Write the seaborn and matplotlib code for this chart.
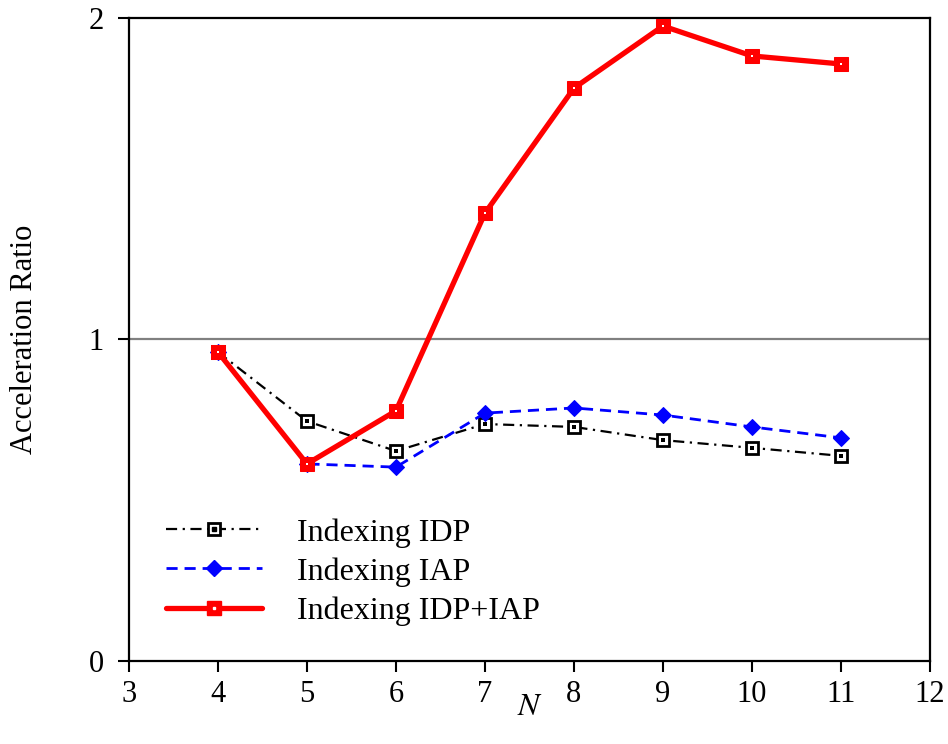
import matplotlib
matplotlib.use("Agg")
import matplotlib.pyplot as plt
import seaborn as sns
import pandas as pd
from matplotlib.lines import Line2D

N = [4, 5, 6, 7, 8, 9, 10, 11]
idp = [0.961, 0.746, 0.653, 0.737, 0.728, 0.687, 0.663, 0.638]
iap = [0.961, 0.613, 0.603, 0.771, 0.787, 0.765, 0.728, 0.694]
both = [0.961, 0.613, 0.778, 1.393, 1.782, 1.975, 1.882, 1.857]
labels = ["Indexing IDP", "Indexing IAP", "Indexing IDP+IAP"]
xticks = [3, 4, 5, 6, 7, 8, 9, 10, 11, 12]
yticks = [0, 1, 2]

sns.set_theme(style="white")
plt.rcParams['font.family'] = ['Liberation Serif', 'DejaVu Serif']
plt.rcParams['mathtext.fontset'] = 'stix'
plt.rcParams['text.color'] = 'black'
plt.rcParams['axes.labelcolor'] = 'black'

fig = plt.figure(figsize=(9.48, 7.44), dpi=100)
ax = fig.add_axes([0.136, 0.1116, 0.845, 0.8642])

df = pd.DataFrame({"N": N, "idp": idp, "iap": iap, "both": both})

ax.axhline(1, color="#808080", lw=1.6, zorder=1)

DASHDOT = (0, (5, 2.5, 1, 2.5))
DASH = (0, (4, 2.5))

sns.lineplot(data=df, x="N", y="idp", ax=ax, color="black", lw=1.6,
             linestyle=DASHDOT, marker="s", markersize=9,
             markerfacecolor="white", markeredgecolor="black", markeredgewidth=2, zorder=3)
sns.scatterplot(data=df, x="N", y="idp", ax=ax, color="black", s=5, marker="s", linewidth=0, zorder=4)
sns.lineplot(data=df, x="N", y="iap", ax=ax, color="blue", lw=2,
             linestyle=DASH, marker="D", markersize=8,
             markerfacecolor="blue", markeredgecolor="blue", zorder=3)
sns.lineplot(data=df, x="N", y="both", ax=ax, color="red", lw=3.8,
             marker="s", markersize=10, markerfacecolor="red",
             markeredgecolor="red", zorder=5)
sns.scatterplot(data=df, x="N", y="both", ax=ax, color="white", s=3, marker="s", linewidth=0, zorder=6)

ax.set_xlim(3, 12)
ax.set_ylim(0, 2)
ax.set_xticks(xticks)
ax.set_yticks(yticks)
ax.tick_params(axis="both", direction="out", length=8, width=1.5, labelsize=22,
               colors="black", bottom=True, left=True)
ax.tick_params(axis="y", pad=10)
ax.tick_params(axis="x", pad=6)
for s in ax.spines.values():
    s.set_color("black")
    s.set_linewidth(1.6)
ax.set_xlabel("$N$", fontsize=23, labelpad=-12)
ax.set_ylabel("Acceleration Ratio", fontsize=22, labelpad=36)

h1 = (Line2D([], [], color="black", lw=1.6, linestyle=DASHDOT, marker="s",
             markersize=9, markerfacecolor="white", markeredgecolor="black", markeredgewidth=2),
      Line2D([], [], ls="none", marker="s", markersize=2.2, color="black"))
h2 = Line2D([], [], color="blue", lw=2, linestyle=DASH, marker="D", markersize=8,
            markerfacecolor="blue", markeredgecolor="blue")
h3 = (Line2D([], [], color="red", lw=3.8, marker="s", markersize=10,
             markerfacecolor="red", markeredgecolor="red"),
      Line2D([], [], ls="none", marker="s", markersize=1.8, color="white"))
leg = ax.legend([h1, h2, h3], labels, loc="lower left", bbox_to_anchor=(0.03, 0.035),
                borderaxespad=0, frameon=False, fontsize=23, handlelength=3.0,
                handletextpad=1.1, labelspacing=0.3)

fig.savefig("out.png", dpi=100)
